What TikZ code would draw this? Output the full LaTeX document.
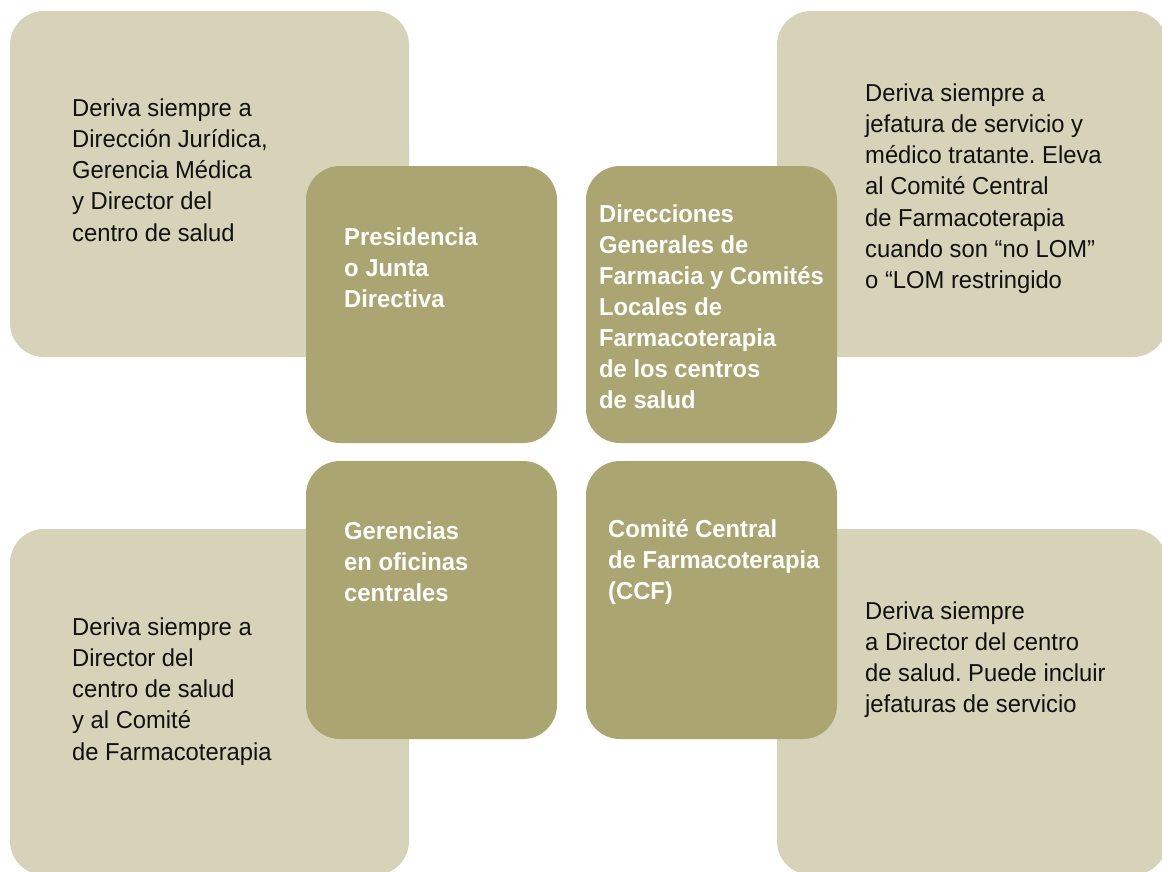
\documentclass[tikz,border=0pt]{standalone}
\usepackage{fontspec}
\setmainfont{Liberation Sans}[FakeStretch=0.97]
\frenchspacing
\definecolor{lightbg}{HTML}{D6D3B8}
\definecolor{darkbg}{HTML}{ABA671}
\definecolor{ink}{HTML}{111111}
\tikzset{
  x=1pt, y=-1pt,
  lightbox/.style={fill=lightbg, draw=none, rounded corners=34pt, inner sep=0pt},
  darkbox/.style={fill=darkbg, draw=none, rounded corners=34pt, inner sep=0pt},
  lighttext/.style={anchor=base west, inner sep=0pt, align=left, text=ink,
    font=\fontsize{24.5}{31.3}\selectfont\frenchspacing},
  darktext/.style={anchor=base west, inner sep=0pt, align=left, text=white,
    font=\fontsize{24.5}{31.1}\selectfont\bfseries\frenchspacing},
}
\begin{document}
\begin{tikzpicture}
\useasboundingbox (0,0) rectangle (1162,871);
\clip (0,0) rectangle (1162,871);
% light boxes
\node[lightbox, minimum width=399pt, minimum height=346pt] (tl) at (209.5,184) {};
\node[lightbox, minimum width=390pt, minimum height=346pt] (tr) at (972,184) {};
\node[lightbox, minimum width=399pt, minimum height=346pt] (bl) at (209.5,702) {};
\node[lightbox, minimum width=390pt, minimum height=346pt] (br) at (972,702) {};
% dark boxes
\node[darkbox, minimum width=251pt, minimum height=277pt] (dtl) at (431.5,304.5) {};
\node[darkbox, minimum width=251pt, minimum height=277pt] (dtr) at (711.5,304.5) {};
\node[darkbox, minimum width=251pt, minimum height=278pt] (dbl) at (431.5,600) {};
\node[darkbox, minimum width=251pt, minimum height=278pt] (dbr) at (711.5,600) {};
% texts (anchored at the baseline of their last line)
\node[lighttext] (tlt) at (72,241.2) {Deriva siempre a\\Dirección Jurídica,\\Gerencia Médica\\y Director del\\centro de salud};
\node[lighttext] (trt) at (865,288.8) {Deriva siempre a\\jefatura de servicio y\\médico tratante. Eleva\\al Comité Central\\de Farmacoterapia\\cuando son “no LOM”\\o “LOM restringido};
\node[lighttext] (blt) at (72,760.2) {Deriva siempre a\\Director del\\centro de salud\\y al Comité\\de Farmacoterapia};
\node[lighttext] (brt) at (865,712.9) {Deriva siempre\\a Director del centro\\de salud. Puede incluir\\jefaturas de servicio};
\node[darktext] (dtlt) at (344,307.2) {Presidencia\\o Junta\\Directiva};
\node[darktext] (dtrt) at (599,408.6) {Direcciones\\Generales de\\Farmacia y Comités\\Locales de\\Farmacoterapia\\de los centros\\de salud};
\node[darktext] (dblt) at (344,601.2) {Gerencias\\en oficinas\\centrales};
\node[darktext] (dbrt) at (608,599.2) {Comité Central\\de Farmacoterapia\\(CCF)};
\end{tikzpicture}
\end{document}
